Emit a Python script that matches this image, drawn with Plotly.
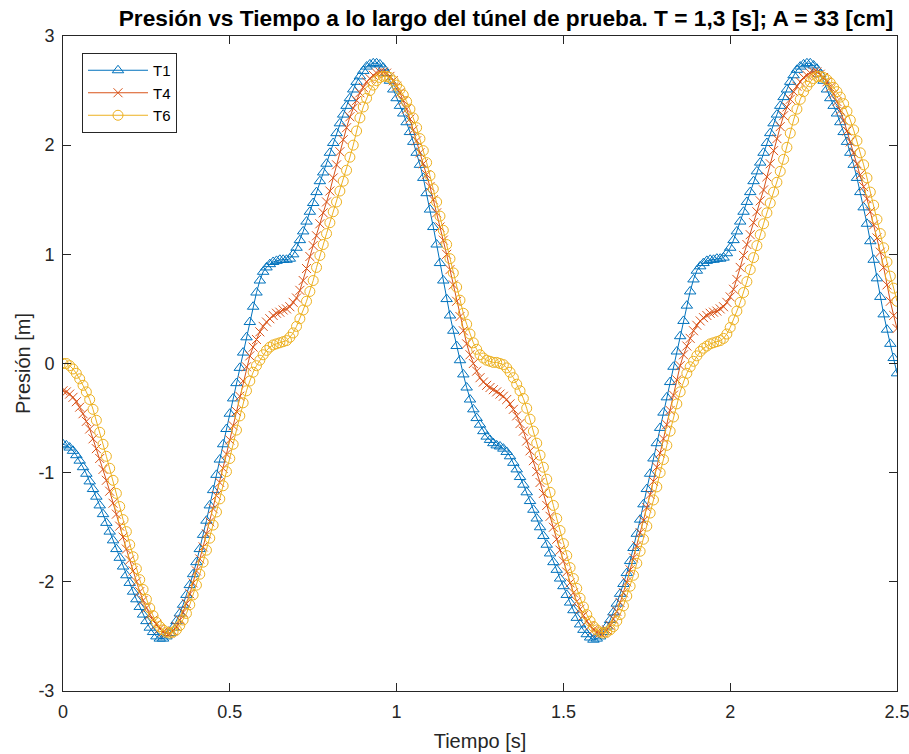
import plotly.graph_objects as go

# Sampling step of the pressure records [s]
dt = 0.01

# Pressure at sensor T1 [m]
T1 = [
    -0.74, -0.75, -0.77, -0.80, -0.84, -0.89, -0.95, -1.01, -1.08, -1.15,
    -1.22, -1.30, -1.38, -1.46, -1.54, -1.62, -1.70, -1.78, -1.86, -1.94,
    -2.01, -2.09, -2.16, -2.23, -2.30, -2.36, -2.42, -2.46, -2.50, -2.52,
    -2.52, -2.50, -2.47, -2.42, -2.36, -2.29, -2.21, -2.12, -2.03, -1.93,
    -1.82, -1.70, -1.57, -1.44, -1.30, -1.16, -1.02, -0.88, -0.74, -0.60,
    -0.46, -0.32, -0.18, -0.04, 0.10, 0.24, 0.38, 0.52, 0.65, 0.76,
    0.84, 0.88, 0.91, 0.93, 0.94, 0.95, 0.95, 0.95, 0.96, 1.00,
    1.06, 1.13, 1.21, 1.30, 1.39, 1.47, 1.57, 1.67, 1.75, 1.83,
    1.93, 2.02, 2.11, 2.20, 2.28, 2.36, 2.43, 2.51, 2.58, 2.63,
    2.68, 2.72, 2.74, 2.75, 2.75, 2.74, 2.71, 2.66, 2.59, 2.51,
    2.43, 2.36, 2.29, 2.21, 2.12, 2.03, 1.93, 1.82, 1.70, 1.56,
    1.41, 1.25, 1.09, 0.92, 0.76, 0.59, 0.44, 0.30, 0.16, 0.03,
    -0.10, -0.22, -0.33, -0.42, -0.50, -0.56, -0.62, -0.67, -0.70, -0.73,
    -0.75, -0.76, -0.78, -0.81, -0.85, -0.91, -0.97, -1.04, -1.11, -1.18,
    -1.26, -1.34, -1.42, -1.50, -1.58, -1.66, -1.74, -1.82, -1.89, -1.97,
    -2.04, -2.12, -2.19, -2.26, -2.33, -2.39, -2.44, -2.48, -2.51, -2.53,
    -2.52, -2.50, -2.46, -2.41, -2.35, -2.28, -2.20, -2.11, -2.02, -1.92,
    -1.81, -1.69, -1.56, -1.43, -1.29, -1.15, -1.01, -0.87, -0.73, -0.59,
    -0.45, -0.31, -0.17, -0.03, 0.11, 0.25, 0.39, 0.53, 0.66, 0.77,
    0.85, 0.89, 0.92, 0.94, 0.95, 0.95, 0.96, 0.96, 0.97, 1.01,
    1.06, 1.13, 1.21, 1.30, 1.39, 1.48, 1.57, 1.67, 1.76, 1.84,
    1.93, 2.02, 2.11, 2.20, 2.28, 2.36, 2.44, 2.51, 2.58, 2.64,
    2.69, 2.72, 2.74, 2.75, 2.75, 2.73, 2.70, 2.65, 2.59, 2.51,
    2.43, 2.36, 2.29, 2.21, 2.12, 2.03, 1.93, 1.82, 1.70, 1.57,
    1.43, 1.28, 1.12, 0.95, 0.78, 0.61, 0.45, 0.31, 0.18, 0.05,
    -0.09,
]

# Pressure at sensor T4 [m]
T4 = [
    -0.25, -0.26, -0.28, -0.31, -0.35, -0.40, -0.46, -0.53, -0.60, -0.69,
    -0.78, -0.87, -0.97, -1.07, -1.17, -1.28, -1.38, -1.49, -1.59, -1.70,
    -1.80, -1.90, -2.00, -2.09, -2.17, -2.24, -2.30, -2.35, -2.39, -2.43,
    -2.46, -2.47, -2.47, -2.45, -2.41, -2.35, -2.28, -2.20, -2.11, -2.01,
    -1.90, -1.79, -1.68, -1.56, -1.45, -1.33, -1.21, -1.09, -0.96, -0.83,
    -0.70, -0.57, -0.44, -0.30, -0.16, -0.03, 0.07, 0.15, 0.22, 0.29,
    0.34, 0.38, 0.41, 0.44, 0.46, 0.47, 0.49, 0.50, 0.52, 0.56,
    0.60, 0.67, 0.76, 0.87, 0.98, 1.08, 1.17, 1.28, 1.38, 1.48,
    1.58, 1.70, 1.82, 1.94, 2.05, 2.16, 2.26, 2.34, 2.41, 2.48,
    2.53, 2.58, 2.61, 2.64, 2.66, 2.67, 2.67, 2.66, 2.63, 2.59,
    2.54, 2.48, 2.41, 2.33, 2.24, 2.14, 2.04, 1.93, 1.83, 1.73,
    1.62, 1.50, 1.38, 1.25, 1.13, 1.00, 0.86, 0.72, 0.57, 0.43,
    0.30, 0.18, 0.08, 0.00, -0.07, -0.13, -0.17, -0.20, -0.22, -0.24,
    -0.26, -0.28, -0.30, -0.33, -0.37, -0.42, -0.48, -0.55, -0.62, -0.71,
    -0.80, -0.89, -0.99, -1.09, -1.19, -1.30, -1.40, -1.50, -1.61, -1.71,
    -1.81, -1.91, -2.01, -2.10, -2.18, -2.25, -2.31, -2.36, -2.40, -2.44,
    -2.46, -2.47, -2.47, -2.44, -2.40, -2.34, -2.27, -2.19, -2.10, -2.00,
    -1.89, -1.78, -1.67, -1.55, -1.44, -1.32, -1.20, -1.08, -0.95, -0.82,
    -0.69, -0.56, -0.43, -0.29, -0.15, -0.02, 0.08, 0.16, 0.23, 0.30,
    0.35, 0.39, 0.42, 0.44, 0.46, 0.47, 0.48, 0.50, 0.52, 0.56,
    0.61, 0.68, 0.77, 0.88, 0.99, 1.09, 1.18, 1.29, 1.39, 1.49,
    1.59, 1.71, 1.83, 1.95, 2.06, 2.17, 2.27, 2.35, 2.42, 2.49,
    2.54, 2.58, 2.62, 2.64, 2.66, 2.67, 2.67, 2.65, 2.62, 2.58,
    2.53, 2.47, 2.40, 2.32, 2.23, 2.13, 2.03, 1.93, 1.83, 1.73,
    1.62, 1.51, 1.39, 1.27, 1.15, 1.02, 0.88, 0.72, 0.57, 0.44,
    0.32,
]

# Pressure at sensor T6 [m]
T6 = [
    0.00, 0.00, -0.02, -0.05, -0.09, -0.14, -0.20, -0.26, -0.33, -0.42,
    -0.52, -0.63, -0.74, -0.85, -0.96, -1.07, -1.19, -1.31, -1.43, -1.54,
    -1.66, -1.77, -1.88, -1.98, -2.07, -2.16, -2.24, -2.31, -2.37, -2.41,
    -2.44, -2.46, -2.47, -2.46, -2.44, -2.40, -2.35, -2.29, -2.21, -2.12,
    -2.03, -1.93, -1.82, -1.71, -1.60, -1.48, -1.36, -1.24, -1.12, -0.99,
    -0.87, -0.74, -0.61, -0.48, -0.36, -0.25, -0.16, -0.08, -0.02, 0.03,
    0.08, 0.12, 0.15, 0.17, 0.18, 0.19, 0.20, 0.21, 0.24, 0.28,
    0.34, 0.41, 0.49, 0.57, 0.66, 0.76, 0.88, 0.99, 1.09, 1.19,
    1.29, 1.39, 1.48, 1.58, 1.67, 1.77, 1.89, 2.00, 2.13, 2.25,
    2.35, 2.43, 2.50, 2.55, 2.59, 2.62, 2.63, 2.63, 2.62, 2.59,
    2.55, 2.51, 2.46, 2.40, 2.33, 2.25, 2.16, 2.06, 1.95, 1.84,
    1.72, 1.60, 1.48, 1.35, 1.22, 1.09, 0.96, 0.83, 0.70, 0.58,
    0.46, 0.36, 0.27, 0.19, 0.13, 0.08, 0.05, 0.03, 0.02, 0.01,
    0.01, 0.00, -0.01, -0.04, -0.08, -0.13, -0.19, -0.25, -0.32, -0.41,
    -0.51, -0.62, -0.73, -0.84, -0.95, -1.06, -1.18, -1.30, -1.42, -1.53,
    -1.65, -1.76, -1.87, -1.97, -2.06, -2.15, -2.23, -2.30, -2.36, -2.41,
    -2.44, -2.46, -2.47, -2.46, -2.44, -2.41, -2.36, -2.30, -2.22, -2.13,
    -2.04, -1.94, -1.83, -1.72, -1.61, -1.49, -1.37, -1.25, -1.13, -1.00,
    -0.88, -0.75, -0.62, -0.49, -0.37, -0.26, -0.17, -0.09, -0.03, 0.02,
    0.07, 0.11, 0.14, 0.16, 0.18, 0.19, 0.20, 0.21, 0.23, 0.27,
    0.33, 0.40, 0.48, 0.56, 0.65, 0.75, 0.86, 0.97, 1.08, 1.18,
    1.28, 1.38, 1.47, 1.57, 1.66, 1.76, 1.87, 1.98, 2.11, 2.23,
    2.33, 2.42, 2.49, 2.54, 2.58, 2.61, 2.63, 2.63, 2.62, 2.60,
    2.57, 2.53, 2.49, 2.44, 2.38, 2.31, 2.23, 2.14, 2.04, 1.93,
    1.82, 1.70, 1.57, 1.45, 1.32, 1.19, 1.06, 0.93, 0.80, 0.69,
    0.57,
]

# Time axis [s]
t = [round(i * dt, 2) for i in range(len(T1))]

# Tick labels
x_ticks = [0, 0.5, 1, 1.5, 2, 2.5]
x_labels = ["0", "0.5", "1", "1.5", "2", "2.5"]
y_ticks = [-3, -2, -1, 0, 1, 2, 3]
y_labels = ["-3", "-2", "-1", "0", "1", "2", "3"]

FONT = "Liberation Sans, Arial, Helvetica, sans-serif"
AX = "#262626"

series = [
    ("T1", T1, "#0072BD", "triangle-up-open", 10),
    ("T4", T4, "#D95319", "x-thin-open", 9),
    ("T6", T6, "#EDB120", "circle-open", 10),
]

fig = go.Figure()
for name, y, color, symbol, size in series:
    fig.add_trace(go.Scatter(
        x=t, y=y, name=name, mode="lines+markers",
        line=dict(color=color, width=1),
        marker=dict(symbol=symbol, size=size, color=color,
                    line=dict(color=color, width=1)),
    ))

axis_common = dict(
    showgrid=False, zeroline=False, showline=True, mirror="ticks",
    linecolor=AX, linewidth=1, ticks="inside", ticklen=8,
    tickcolor=AX, tickwidth=1, automargin=False, ticklabelstandoff=4,
    ticklabeloverflow="allow",
    tickfont=dict(family=FONT, size=18, color=AX),
)

fig.update_layout(
    width=909, height=754,
    margin=dict(l=63, r=12, t=36, b=63),
    paper_bgcolor="white", plot_bgcolor="white",
    title=dict(
        text="<b>Presión vs Tiempo a lo largo del túnel de prueba. T = 1,3 [s]; A = 33 [cm]</b>",
        font=dict(family=FONT, size=22.7, color="black"),
        x=(506 - 63) / 834, xref="paper", xanchor="center",
        y=1 - 18 / 754, yref="container", yanchor="middle",
    ),
    xaxis=dict(
        range=[0, 2.5], tickvals=x_ticks, ticktext=x_labels,
        title=dict(text="Tiempo [s]", font=dict(family=FONT, size=20, color=AX), standoff=13),
        **axis_common,
    ),
    yaxis=dict(
        range=[-3, 3], tickvals=y_ticks, ticktext=y_labels,
        title=dict(text="Presión [m]", font=dict(family=FONT, size=20, color=AX), standoff=2),
        **axis_common,
    ),
    legend=dict(
        x=(82 - 63) / 834, y=1 - (53 - 36) / 655, xanchor="left", yanchor="top",
        bgcolor="white", bordercolor=AX, borderwidth=1,
        font=dict(family=FONT, size=15, color="black"),
        tracegroupgap=0, itemwidth=60,
    ),
    showlegend=True,
)

fig.write_html("out.html")
